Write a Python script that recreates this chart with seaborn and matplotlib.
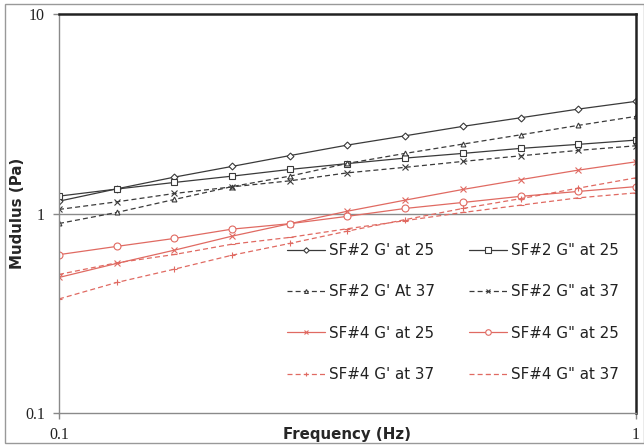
import matplotlib
matplotlib.use("Agg")
import matplotlib.pyplot as plt
import seaborn as sns
import pandas as pd
from matplotlib.patches import Rectangle

# ---- data ----
freq = [0.1, 0.1259, 0.1585, 0.1995, 0.2512, 0.3162, 0.3981, 0.5012, 0.631, 0.7943, 1.0]

sf2_gp_25 = [1.153, 1.329, 1.522, 1.722, 1.951, 2.203, 2.452, 2.734, 3.019, 3.337, 3.649]
sf2_gpp_25 = [1.222, 1.326, 1.431, 1.539, 1.663, 1.779, 1.896, 2.001, 2.120, 2.221, 2.333]
sf2_gp_37 = [0.891, 1.012, 1.176, 1.364, 1.539, 1.783, 2.001, 2.228, 2.480, 2.765, 3.068]
sf2_gpp_37 = [1.048, 1.144, 1.260, 1.360, 1.458, 1.599, 1.704, 1.824, 1.946, 2.072, 2.185]

sf4_gp_25 = [0.478, 0.562, 0.655, 0.770, 0.889, 1.027, 1.167, 1.320, 1.478, 1.650, 1.816]
sf4_gpp_25 = [0.622, 0.684, 0.750, 0.835, 0.889, 0.968, 1.060, 1.136, 1.219, 1.290, 1.364]
sf4_gp_37 = [0.373, 0.451, 0.526, 0.618, 0.708, 0.816, 0.932, 1.060, 1.187, 1.340, 1.510]
sf4_gpp_37 = [0.495, 0.566, 0.623, 0.702, 0.759, 0.839, 0.921, 1.012, 1.101, 1.198, 1.269]

labels = ["SF#2 G' at 25", 'SF#2 G" at 25', "SF#2 G' At 37", 'SF#2 G" at 37',
          "SF#4 G' at 25", 'SF#4 G" at 25', "SF#4 G' at 37", 'SF#4 G" at 37']

x_ticks = [0.1, 1]
x_ticklabels = ["0.1", "1"]
y_ticks = [0.1, 1, 10]
y_ticklabels = ["0.1", "1", "10"]

# ---- style ----
sns.set_style("white")
plt.rcParams['font.family'] = ['DejaVu Sans']

W, H = 644, 445
fig = plt.figure(figsize=(W / 100, H / 100), dpi=100)
ax = fig.add_axes([59 / W, 1 - 413 / H, (636 - 59) / W, (413 - 14) / H])

BLK = '#3a3a3a'
RED = '#e06a62'
DASH = (0, (4, 2.5))

series = [
    (sf2_gp_25, labels[0], BLK, '-', 'D', 3.5),
    (sf2_gpp_25, labels[1], BLK, '-', 's', 5),
    (sf2_gp_37, labels[2], BLK, DASH, '^', 3.5),
    (sf2_gpp_37, labels[3], BLK, DASH, 'x', 4),
    (sf4_gp_25, labels[4], RED, '-', 'x', 4),
    (sf4_gpp_25, labels[5], RED, '-', 'o', 5),
    (sf4_gp_37, labels[6], RED, DASH, '+', 4),
    (sf4_gpp_37, labels[7], RED, DASH, '_', 4),
]

handles = {}
for vals, lab, col, ls, mk, ms in series:
    df = pd.DataFrame({'f': freq, 'g': vals})
    sns.lineplot(data=df, x='f', y='g', ax=ax, color=col, linestyle=ls,
                 linewidth=0.9, marker=mk, markersize=ms, markerfacecolor='white',
                 markeredgecolor=col, markeredgewidth=0.8, estimator=None,
                 label=lab, legend=False)
    handles[lab] = ax.get_lines()[-1]

ax.set_xscale('log')
ax.set_yscale('log')
ax.set_xlim(0.1, 1)
ax.set_ylim(0.1, 10)
ax.minorticks_off()
ax.set_xticks(x_ticks)
ax.set_xticklabels(x_ticklabels)
ax.set_yticks(y_ticks)
ax.set_yticklabels(y_ticklabels)
ax.set_xlabel('')
ax.set_ylabel('')
for t in ax.get_xticklabels() + ax.get_yticklabels():
    t.set_fontfamily('Liberation Serif')
    t.set_fontsize(11.5)
    t.set_color('#222222')
ax.tick_params(axis='both', which='major', direction='out', length=4,
               width=1, color='#888888', pad=6, bottom=True, left=True)

ax.axhline(1, color='#8a8a8a', linewidth=1, zorder=1)

for s in ['left', 'bottom']:
    ax.spines[s].set_color('#8a8a8a')
    ax.spines[s].set_linewidth(1)
for s in ['top', 'right']:
    ax.spines[s].set_color('#222222')
    ax.spines[s].set_linewidth(1.8)

fig.text(347 / W, 1 - 434 / H, 'Frequency (Hz)', ha='center', va='center',
         fontsize=10.8, fontweight='bold')
fig.text(17.5 / W, 1 - 213 / H, 'Mudulus (Pa)', ha='center', va='center',
         rotation=90, fontsize=10.8, fontweight='bold')

order = [labels[0], labels[2], labels[4], labels[6],
         labels[1], labels[3], labels[5], labels[7]]
leg = ax.legend([handles[l] for l in order], order, ncol=2, loc='upper left',
                bbox_to_anchor=(287 / W, 1 - 243 / H), bbox_transform=fig.transFigure,
                frameon=False, borderpad=0, borderaxespad=0, fontsize=10.9,
                handlelength=2.5, handletextpad=0.25, columnspacing=2.3,
                labelspacing=1.74, markerscale=0.8)
for t in leg.get_texts():
    t.set_color('#222222')

fig.add_artist(Rectangle((5 / W, 1 - 443 / H), (644 - 5) / W, (443 - 4) / H,
                         transform=fig.transFigure, fill=False,
                         edgecolor='#999999', linewidth=1))

fig.savefig('out.png', dpi=100)
